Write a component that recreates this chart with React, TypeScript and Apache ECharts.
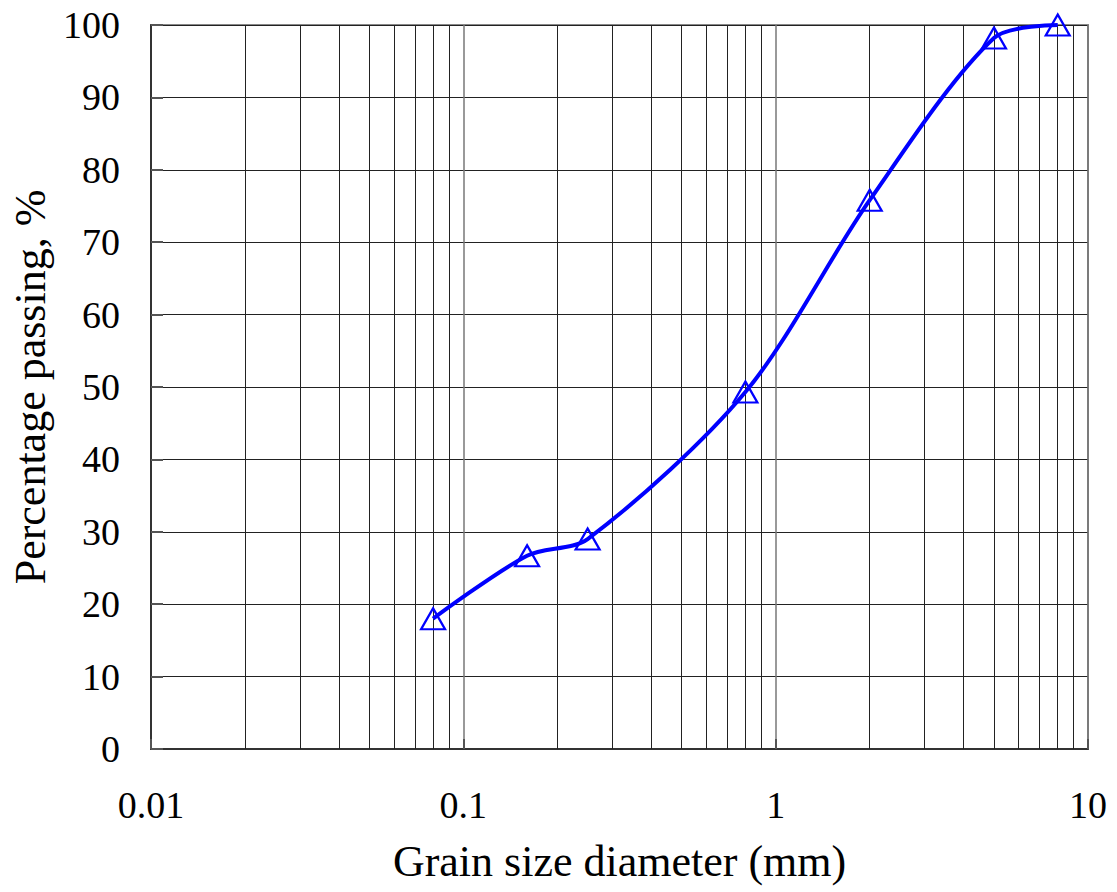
import React, { useEffect, useRef } from "react";
import * as echarts from "echarts";

const grainSize = [0.08, 0.16, 0.25, 0.8, 2, 5, 8];
const passing = [18, 26.7, 29, 49.3, 75.8, 98.2, 100];
const minorGridValues = [
  0.02, 0.03, 0.04, 0.05, 0.06, 0.07, 0.08, 0.09,
  0.2, 0.3, 0.4, 0.5, 0.6, 0.7, 0.8, 0.9,
  2, 3, 4, 5, 6, 7, 8, 9,
];
const xTitle = "Grain size diameter (mm)";
const yTitle = "Percentage passing, %";

const FONT = "Liberation Serif";

export default function App() {
  const ref = useRef<HTMLDivElement>(null);
  useEffect(() => {
    if (!ref.current) return;
    const chart = echarts.init(ref.current, null, { renderer: "svg" });
    chart.setOption({
      animation: false,
      backgroundColor: "#fff",
      textStyle: { fontFamily: FONT },
      grid: {
        left: 151,
        right: 29,
        top: 25,
        bottom: 143,
        show: true,
        borderColor: "#888",
        borderWidth: 2,
      },
      xAxis: {
        type: "log",
        logBase: 10,
        min: 0.01,
        max: 10,
        name: xTitle,
        nameLocation: "middle",
        nameGap: 90,
        nameTextStyle: { fontFamily: FONT, fontSize: 44, color: "#000" },
        axisLine: { show: true, onZero: false, lineStyle: { color: "#333", width: 2 } },
        axisTick: { show: true, inside: true, length: 10, lineStyle: { color: "#555", width: 2 } },
        axisLabel: {
          fontFamily: FONT,
          fontSize: 38,
          color: "#000",
          margin: 37,
          formatter: (v: number) => String(+v.toPrecision(6)),
        },
        splitLine: { show: true, lineStyle: { color: "#777", width: 1.5 } },
      },
      yAxis: {
        type: "value",
        min: 0,
        max: 100,
        interval: 10,
        name: yTitle,
        nameLocation: "middle",
        nameGap: 96,
        nameTextStyle: { fontFamily: FONT, fontSize: 44, color: "#000" },
        axisLine: { show: true, lineStyle: { color: "#333", width: 2 } },
        axisTick: { show: true, inside: true, length: 12, lineStyle: { color: "#555", width: 2 } },
        axisLabel: { fontFamily: FONT, fontSize: 38, color: "#000", margin: 31 },
        splitLine: { show: true, lineStyle: { color: "#222", width: 1 } },
      },
      series: [
        {
          type: "line",
          data: grainSize.map((x, i) => [x, passing[i]]),
          smooth: 0.3,
          symbol: "triangle",
          symbolSize: [24, 21],
          lineStyle: { color: "#0000ff", width: 4 },
          itemStyle: { color: "rgba(0,0,0,0)", borderColor: "#0000ff", borderWidth: 2.2 },
          z: 5,
          markLine: {
            silent: true,
            symbol: ["none", "none"],
            label: { show: false },
            lineStyle: { color: "#222", width: 1, type: "solid" },
            emphasis: { disabled: true },
            data: minorGridValues.map((v) => ({ xAxis: v })),
            z: 1,
          },
        },
      ],
    });
    return () => chart.dispose();
  }, []);
  return (
    <div
      ref={ref}
      style={{ position: "fixed", left: 0, top: 0, width: 1117, height: 892 }}
    />
  );
}
